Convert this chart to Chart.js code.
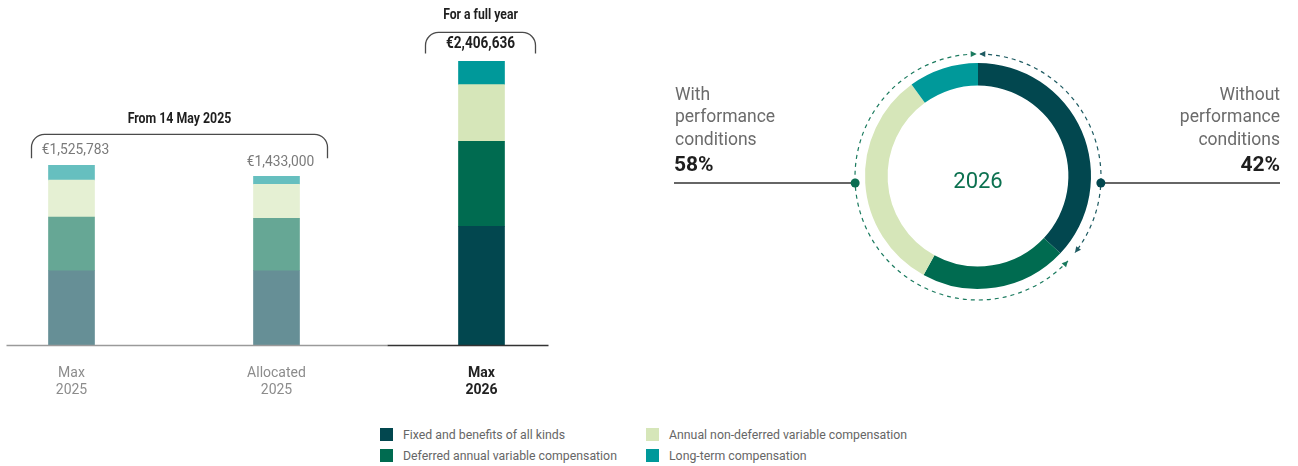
<!DOCTYPE html>
<html>
<head>
<meta charset="utf-8">
<script src="https://cdn.jsdelivr.net/npm/chart.js@4.4.1/dist/chart.umd.min.js"></script>
<style>
  html, body { margin: 0; padding: 0; background: #fff; width: 1298px; height: 466px; overflow: hidden; font-family: Roboto, sans-serif; }
  #barBox { position: absolute; left: -40px; top: 0; width: 624px; height: 419px; }
  #donutBox { position: absolute; left: 660px; top: 0; width: 636px; height: 360px; }
  .lg { position: absolute; font-size: 12.3px; color: #666; line-height: 14px; white-space: nowrap; }
  .lg i { position: absolute; left: -23px; top: 0; width: 13px; height: 13px; }
</style>
</head>
<body>
<div id="barBox"><canvas id="bars"></canvas></div>
<div id="donutBox"><canvas id="donut"></canvas></div>
<div id="legend"></div>
<script>
/* ── data ── */
const categories = [['Max', '2025'], ['Allocated', '2025'], ['Max', '2026']];
const seriesNames = ['Fixed and benefits of all kinds', 'Deferred annual variable compensation',
  'Annual non-deferred variable compensation', 'Long-term compensation'];
const fixedPay = [633000, 633000, 1010000];
const deferredVar = [455000, 443000, 720000];
const annualVar = [312000, 290000, 480000];
const longTerm = [125783, 67000, 196636];
const groupTitles = ['From 14 May 2025', 'For a full year'];

const donutShares = [37, 21, 32, 10];   // share of ring drawn, clockwise from top
const donutYear = '2026';
const sideLabels = [['With', 'performance', 'conditions'], ['Without', 'performance', 'conditions']];
const sidePcts = ['58%', '42%'];

const FULL = ['#02474f', '#006b50', '#d6e6b9', '#00999a'];
const FADED = ['#668f96', '#66a795', '#e5f0d3', '#66bfbf'];
const FONT = 'Roboto, sans-serif';

const series = [fixedPay, deferredVar, annualVar, longTerm];
const fmtE = v => '\u20ac' + v.toLocaleString('en-US');

/* ── legend ── */
const lgPos = [[403, 428], [403, 449], [669, 428], [669, 449]];
document.getElementById('legend').innerHTML = seriesNames.map((name, k) =>
  `<div class="lg" style="left:${lgPos[k][0]}px;top:${lgPos[k][1]}px"><i style="background:${FULL[k]}"></i>${name}</div>`
).join('');

/* ── helpers ── */
// the source uses a condensed bold face; squeeze Roboto horizontally instead
function narrowText(ctx, txt, x, y, sx) {
  ctx.save();
  ctx.translate(x, y);
  ctx.scale(sx, 1);
  ctx.fillText(txt, 0, 0);
  ctx.restore();
}

function bracket(ctx, l, r, top, bottom, rad) {
  ctx.beginPath();
  ctx.moveTo(l, bottom);
  ctx.lineTo(l, top + rad);
  ctx.arcTo(l, top, l + rad, top, rad);
  ctx.lineTo(r - rad, top);
  ctx.arcTo(r, top, r, top + rad, rad);
  ctx.lineTo(r, bottom);
  ctx.stroke();
}

/* ── bar annotations ── */
const barNotes = {
  id: 'barNotes',
  afterDraw(chart) {
    const ctx = chart.ctx;
    const top = chart.getDatasetMeta(3).data;
    const base = chart.chartArea.bottom;
    const totals = categories.map((c, i) => series.reduce((a, s) => a + s[i], 0));
    ctx.save();
    // baseline
    ctx.lineWidth = 1.5;
    ctx.strokeStyle = '#9a9a9a';
    ctx.beginPath(); ctx.moveTo(top[0].x - 65, base); ctx.lineTo(top[2].x - 94, base); ctx.stroke();
    ctx.strokeStyle = '#333';
    ctx.beginPath(); ctx.moveTo(top[2].x - 94, base); ctx.lineTo(top[2].x + 67, base); ctx.stroke();

    // totals over the first two bars
    ctx.textAlign = 'center'; ctx.textBaseline = 'middle';
    ctx.fillStyle = '#7a7a7a';
    ctx.font = '15px ' + FONT;
    narrowText(ctx, fmtE(totals[0]), top[0].x + 4, top[0].y - 15, 0.92);
    narrowText(ctx, fmtE(totals[1]), top[1].x + 4, top[1].y - 14, 0.92);

    // brackets
    ctx.strokeStyle = '#4a4a4a'; ctx.lineWidth = 1.3;
    const t1 = top[0].y - 31;
    bracket(ctx, top[0].x - 40, top[1].x + 51, t1, top[0].y - 7, 13);
    const t2 = top[2].y - 29;
    bracket(ctx, top[2].x - 56, top[2].x + 54, t2, top[2].y - 8, 13);

    ctx.fillStyle = '#1e1e1e';
    ctx.font = 'bold 14px ' + FONT;
    narrowText(ctx, groupTitles[0], (top[0].x - 40 + top[1].x + 51) / 2, t1 - 15, 0.88);
    narrowText(ctx, groupTitles[1], top[2].x - 1, t2 - 17, 0.87);
    ctx.font = 'bold 16px ' + FONT;
    narrowText(ctx, fmtE(totals[2]), top[2].x - 1, t2 + 12, 0.85);
    ctx.restore();
  }
};

new Chart(document.getElementById('bars'), {
  type: 'bar',
  data: {
    labels: categories,
    datasets: series.map((s, k) => ({
      label: seriesNames[k],
      data: s,
      backgroundColor: [FADED[k], FADED[k], FULL[k]],
      borderWidth: 0,
      barThickness: 46
    }))
  },
  options: {
    responsive: true, maintainAspectRatio: false, animation: false,
    layout: { padding: { left: 9, right: 0, top: 15, bottom: 0 } },
    plugins: { legend: { display: false }, tooltip: { enabled: false } },
    scales: {
      x: {
        stacked: true,
        grid: { display: false, drawTicks: false },
        border: { display: false },
        ticks: {
          padding: 20,
          color: c => c.index === 2 ? '#222' : '#8c8c8c',
          font: c => c.index === 2
            ? { family: FONT, size: 14, weight: 'bold', lineHeight: 1.2 }
            : { family: FONT, size: 14, weight: 'normal', lineHeight: 1.2 }
        }
      },
      y: { stacked: true, display: false, min: 0, max: 2800000 }
    }
  },
  plugins: [barNotes]
});

/* ── donut annotations ── */
function arrow(ctx, cx, cy, r, a, cw, color) {
  const px = cx + r * Math.cos(a), py = cy + r * Math.sin(a);
  let dx = -Math.sin(a), dy = Math.cos(a);
  if (!cw) { dx = -dx; dy = -dy; }
  const bx = px - dx * 6, by = py - dy * 6;
  ctx.fillStyle = color;
  ctx.beginPath();
  ctx.moveTo(px, py);
  ctx.lineTo(bx - dy * 3, by + dx * 3);
  ctx.lineTo(bx + dy * 3, by - dx * 3);
  ctx.closePath();
  ctx.fill();
}

const donutNotes = {
  id: 'donutNotes',
  afterDraw(chart) {
    const ctx = chart.ctx;
    const arc = chart.getDatasetMeta(0).data[0];
    const cx = arc.x, cy = arc.y + 1, R = arc.outerRadius + 10;
    const deg = d => (d - 90) * Math.PI / 180;   // clock degrees -> canvas radians
    const darkC = '#1d5a61', greenC = '#1a7a5e';
    ctx.save();

    // dashed arcs
    ctx.lineWidth = 1.2;
    ctx.setLineDash([4, 4]);
    ctx.strokeStyle = darkC;
    ctx.beginPath(); ctx.arc(cx, cy, R, deg(1), deg(128)); ctx.stroke();
    ctx.strokeStyle = greenC;
    ctx.beginPath(); ctx.arc(cx, cy, R, deg(133), deg(359)); ctx.stroke();
    ctx.setLineDash([]);
    arrow(ctx, cx, cy, R, deg(0.6), false, darkC);
    arrow(ctx, cx, cy, R, deg(128), true, darkC);
    arrow(ctx, cx, cy, R, deg(-0.6), true, greenC);
    arrow(ctx, cx, cy, R, deg(133), false, greenC);

    // leader lines + dots
    const dy = 6, dx = Math.sqrt(R * R - dy * dy);
    const W = chart.width;
    ctx.strokeStyle = '#333'; ctx.lineWidth = 1.4;
    ctx.beginPath(); ctx.moveTo(14, cy + dy); ctx.lineTo(cx - dx, cy + dy); ctx.stroke();
    ctx.beginPath(); ctx.moveTo(cx + dx, cy + dy); ctx.lineTo(W - 16, cy + dy); ctx.stroke();
    ctx.fillStyle = '#0b6e52';
    ctx.beginPath(); ctx.arc(cx - dx, cy + dy, 4.5, 0, Math.PI * 2); ctx.fill();
    ctx.fillStyle = '#02474f';
    ctx.beginPath(); ctx.arc(cx + dx, cy + dy, 4.5, 0, Math.PI * 2); ctx.fill();

    // side labels
    ctx.textBaseline = 'middle';
    ctx.font = '17.5px ' + FONT;
    ctx.fillStyle = '#6b6b6b';
    const ys = [96, 118, 141];
    ctx.textAlign = 'left';
    sideLabels[0].forEach((t, i) => ctx.fillText(t, 15, ys[i]));
    ctx.textAlign = 'right';
    sideLabels[1].forEach((t, i) => ctx.fillText(t, W - 16, ys[i]));
    ctx.font = 'bold 21px ' + FONT;
    ctx.fillStyle = '#1e1e1e';
    ctx.textAlign = 'left'; ctx.fillText(sidePcts[0], 14, 166);
    ctx.textAlign = 'right'; ctx.fillText(sidePcts[1], W - 16, 166);

    // centre year
    ctx.textAlign = 'center';
    ctx.font = '22px ' + FONT;
    ctx.fillStyle = '#0c7150';
    ctx.fillText(donutYear, cx, cy + 5);
    ctx.restore();
  }
};

new Chart(document.getElementById('donut'), {
  type: 'doughnut',
  data: {
    labels: seriesNames,
    datasets: [{ data: donutShares, backgroundColor: FULL, borderWidth: 0, hoverOffset: 0 }]
  },
  options: {
    responsive: true, maintainAspectRatio: false, animation: false,
    cutout: '80%',
    layout: { padding: { top: 63, bottom: 71, left: 0, right: 0 } },
    plugins: { legend: { display: false }, tooltip: { enabled: false } }
  },
  plugins: [donutNotes]
});
</script>
</body>
</html>
